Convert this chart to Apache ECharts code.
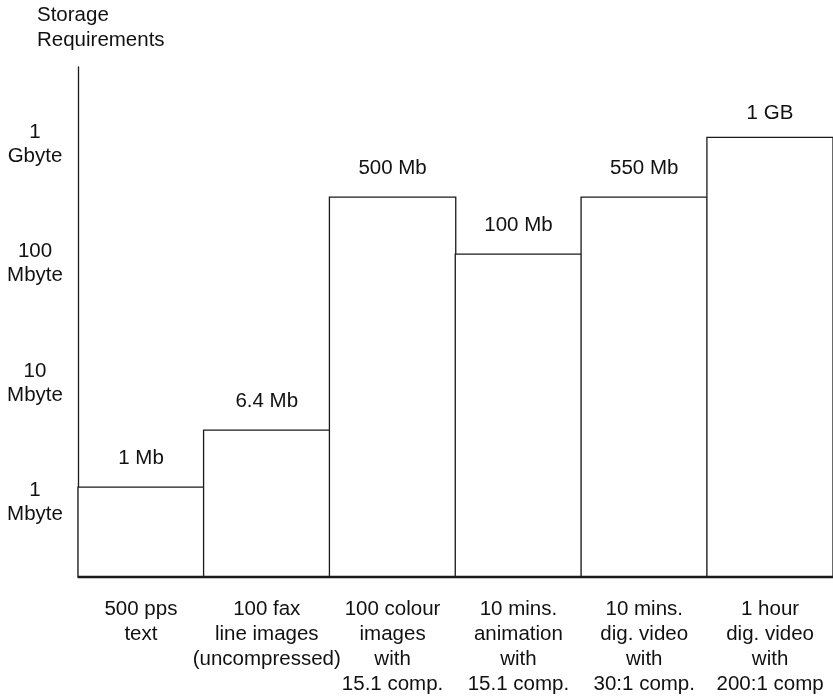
<!DOCTYPE html>
<html>
<head>
<meta charset="utf-8">
<script src="https://cdn.jsdelivr.net/npm/echarts@6/dist/echarts.min.js"></script>
<style>html,body{margin:0;padding:0;background:#fff}#c{width:833px;height:697px}</style>
</head>
<body>
<div id="c"></div>
<script>
// Categories (x axis)
const categories = [
  '500 pps\ntext',
  '100 fax\nline images\n(uncompressed)',
  '100 colour\nimages\nwith\n15.1 comp.',
  '10 mins.\nanimation\nwith\n15.1 comp.',
  '10 mins.\ndig. video\nwith\n30:1 comp.',
  '1 hour\ndig. video\nwith\n200:1 comp'
];
// Bar heights as drawn (MB, on the schematic log scale)
const barHeightsMB = [1.37, 4.1, 365, 122, 365, 1155];
// Bar annotations
const barLabels = ['1 Mb', '6.4 Mb', '500 Mb', '100 Mb', '550 Mb', '1 GB'];
// Y tick values (MB) and labels
const tickValuesMB = [1, 10, 100, 1000];
const tickLabels = ['1\nMbyte', '10\nMbyte', '100\nMbyte', '1\nGbyte'];
// Axis extent (MB)
const axisFloorMB = 0.2393;
const axisCeilMB = 4426;

const base = Math.log10(axisFloorMB);
const toU = mb => Math.log10(mb) - base;
const FONT = '"Liberation Sans", Arial, Helvetica, sans-serif';
const TXT = '#111';
const LINE = '#1a1a1a';
const BW = 1.3;
const GRID_W = 758;
const bandW = GRID_W / categories.length;

const tickU = tickValuesMB.map(toU);
const chart = echarts.init(document.getElementById('c'));
chart.setOption({
  animation: false,
  backgroundColor: '#fff',
  title: {
    text: 'Storage\nRequirements',
    left: 37, top: 3, padding: 0,
    textStyle: { fontSize: 20.5, fontWeight: 'normal', lineHeight: 25, color: TXT, fontFamily: FONT }
  },
  grid: { left: 78, top: 67, width: GRID_W, height: 512, containLabel: false },
  xAxis: {
    type: 'category',
    data: categories,
    axisTick: { show: false },
    axisLine: { lineStyle: { color: LINE, width: BW } },
    axisLabel: { fontSize: 20.5, lineHeight: 25, margin: 20, color: TXT, fontFamily: FONT, interval: 0 }
  },
  yAxis: {
    type: 'value',
    min: 0,
    max: toU(axisCeilMB),
    splitLine: { show: false },
    axisTick: { show: false },
    axisLine: { show: true, lineStyle: { color: LINE, width: BW } },
    axisLabel: {
      customValues: tickU,
      align: 'center',
      margin: 43,
      fontSize: 20.5,
      lineHeight: 24,
      color: TXT,
      fontFamily: FONT,
      formatter: v => {
        let best = 0, d = Infinity;
        tickU.forEach((t, i) => { if (Math.abs(t - v) < d) { d = Math.abs(t - v); best = i; } });
        return tickLabels[best];
      }
    }
  },
  series: [{
    type: 'bar',
    barWidth: bandW + BW,
    data: barHeightsMB.map((mb, i) => ({
      value: toU(mb),
      label: { distance: i === 5 ? 13 : 18 }
    })),
    itemStyle: { color: '#fff', borderColor: LINE, borderWidth: BW },
    label: {
      show: true,
      position: 'top',
      fontSize: 20.5,
      color: TXT,
      fontFamily: FONT,
      formatter: p => barLabels[p.dataIndex]
    }
  }]
});
</script>
</body>
</html>
